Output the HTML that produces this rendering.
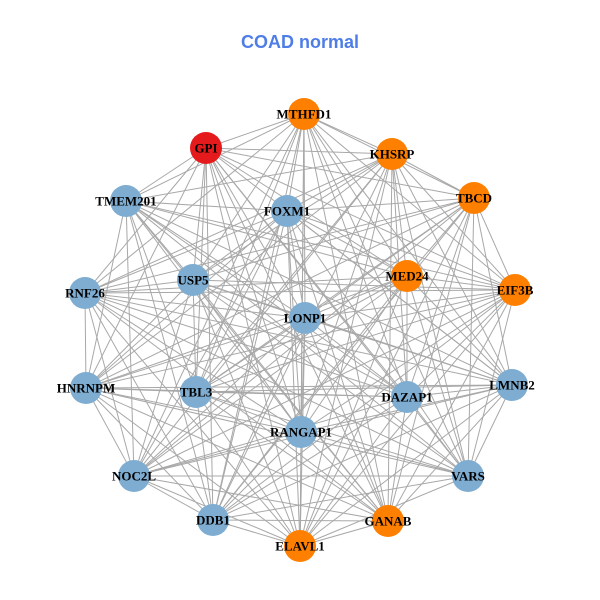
<!DOCTYPE html>
<html><head><meta charset="utf-8"><style>
html,body{margin:0;padding:0;background:#fff;}
svg{display:block;}
.l{font-family:"Liberation Serif",serif;font-weight:bold;font-size:13px;fill:#000;text-anchor:middle;dominant-baseline:central;}
</style></head><body>
<svg id="s" width="600" height="600" viewBox="0 0 600 600">
<rect width="600" height="600" fill="#fff"/>
<text x="300" y="48" text-anchor="middle" font-family="Liberation Sans,sans-serif" font-weight="bold" font-size="18" fill="#4f7de8">COAD normal</text>
<g id="e" stroke="#a8a8a8" stroke-width="1"></g>
<g id="n"></g>
<g>
<text class="l" x="304" y="114">MTHFD1</text>
<text class="l" x="206" y="148">GPI</text>
<text class="l" x="392" y="154">KHSRP</text>
<text class="l" x="474" y="198">TBCD</text>
<text class="l" x="126" y="201">TMEM201</text>
<text class="l" x="287" y="211">FOXM1</text>
<text class="l" x="407" y="276">MED24</text>
<text class="l" x="515" y="290">EIF3B</text>
<text class="l" x="193" y="280">USP5</text>
<text class="l" x="85" y="293">RNF26</text>
<text class="l" x="305" y="318">LONP1</text>
<text class="l" x="86" y="388">HNRNPM</text>
<text class="l" x="196" y="392">TBL3</text>
<text class="l" x="512" y="385">LMNB2</text>
<text class="l" x="407" y="397">DAZAP1</text>
<text class="l" x="301" y="432">RANGAP1</text>
<text class="l" x="134" y="476">NOC2L</text>
<text class="l" x="468" y="476">VARS</text>
<text class="l" x="213" y="520">DDB1</text>
<text class="l" x="388" y="521">GANAB</text>
<text class="l" x="300" y="546">ELAVL1</text>
</g>
</svg>
<script>
var N=[[304,114,'o'],[206,148,'r'],[392,154,'o'],[474,198,'o'],[126,201,'b'],[287,211,'b'],[407,276,'o'],[515,290,'o'],[193,280,'b'],[85,293,'b'],[305,318,'b'],[86,388,'b'],[196,392,'b'],[512,385,'b'],[407,397,'b'],[301,432,'b'],[134,476,'b'],[468,476,'b'],[213,520,'b'],[388,521,'o'],[300,546,'o']];
var C={o:'#ff7f00',r:'#e41a1c',b:'#7eadd1'};
var ns='http://www.w3.org/2000/svg',E=document.getElementById('e'),G=document.getElementById('n');
for(var i=0;i<N.length;i++)for(var j=i+1;j<N.length;j++){if((i*7+j*3)%11==0)continue;var l=document.createElementNS(ns,'line');l.setAttribute('x1',N[i][0]);l.setAttribute('y1',N[i][1]);l.setAttribute('x2',N[j][0]);l.setAttribute('y2',N[j][1]);E.appendChild(l);}
N.forEach(function(p){var c=document.createElementNS(ns,'circle');c.setAttribute('cx',p[0]);c.setAttribute('cy',p[1]);c.setAttribute('r',16);c.setAttribute('fill',C[p[2]]);G.appendChild(c);});
</script>
</body></html>
